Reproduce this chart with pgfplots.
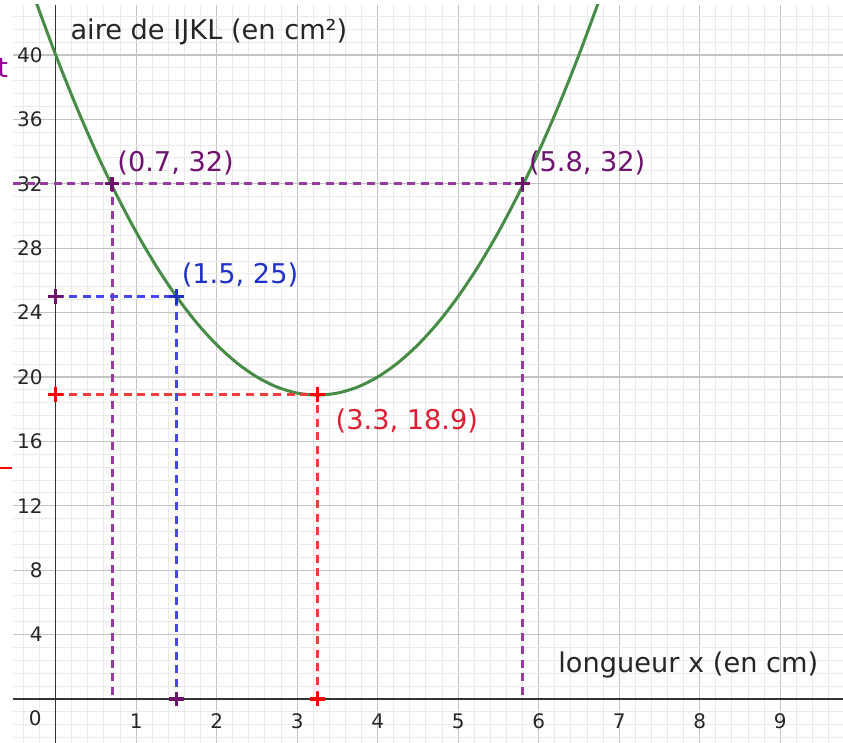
\documentclass[border=0pt]{standalone}
\usepackage{fontspec}
\setmainfont{DejaVu Sans}
\usepackage{pgfplots}
\pgfplotsset{compat=1.18}
\definecolor{curvegreen}{RGB}{70,140,70}
\definecolor{ppurple}{RGB}{150,60,160}
\definecolor{ppurpledark}{RGB}{110,20,110}
\definecolor{pblue}{RGB}{70,70,240}
\definecolor{pbluedark}{RGB}{30,50,200}
\definecolor{pred}{RGB}{240,60,60}
\definecolor{preddark}{RGB}{220,30,50}
\definecolor{majgrid}{RGB}{195,195,195}
\definecolor{mingrid}{RGB}{234,234,234}
\begin{document}
\begin{tikzpicture}
\begin{axis}[
  at={(6.5pt,0pt)}, anchor=south west,
  scale only axis, width=415pt, height=369pt,
  xmin=-0.53, xmax=9.78, ymin=-2.73, ymax=43.1,
  axis lines=middle,
  axis line style={-, draw=black!80, line width=0.8pt},
  xtick={1,...,9}, ytick={4,8,...,40},
  minor xtick={-0.4,-0.2,...,9.8},
  minor ytick={-2.4,-1.6,...,42.4},
  grid=both,
  major grid style={majgrid, line width=0.6pt},
  minor grid style={mingrid, line width=0.5pt},
  major tick length=0pt, minor tick length=0pt,
  tick label style={font=\fontsize{10}{12}\selectfont, text=black!85},
  /pgf/number format/assume math mode=true,
  xticklabel style={anchor=north, yshift=-4pt},
  yticklabel style={anchor=east, xshift=-3pt},
  clip=true,
]
% curve
\addplot[curvegreen, line width=1.5pt, smooth] coordinates {
(-0.25,43.375) (0,40) (0.25,36.875) (0.5,34) (0.75,31.375) (1,29)
(1.25,26.875) (1.5,25) (1.75,23.375) (2,22) (2.25,20.875) (2.5,20)
(2.75,19.375) (3,19) (3.25,18.875) (3.5,19) (3.75,19.375) (4,20)
(4.25,20.875) (4.5,22) (4.75,23.375) (5,25) (5.25,26.875) (5.5,29)
(5.75,31.375) (6,34) (6.25,36.875) (6.5,40) (6.75,43.375)};
% purple dashed
\addplot[ppurple, line width=1.5pt, dash pattern=on 4pt off 2.8pt] coordinates {(-0.53,32) (5.8,32)};
\addplot[ppurple, line width=1.5pt, dash pattern=on 4pt off 2.8pt] coordinates {(0.7,32) (0.7,0)};
\addplot[ppurple, line width=1.5pt, dash pattern=on 4pt off 2.8pt] coordinates {(5.8,32) (5.8,0)};
% blue dashed
\addplot[pblue, line width=1.5pt, dash pattern=on 4pt off 2.8pt] coordinates {(0,25) (1.5,25) (1.5,0)};
% red dashed
\addplot[pred, line width=1.5pt, dash pattern=on 4pt off 2.8pt] coordinates {(0,18.9) (3.25,18.9) (3.25,0)};
% markers
\addplot[only marks, mark=+, mark size=3.6pt, mark options={line width=1.7pt}, ppurpledark] coordinates {(0.7,32) (5.8,32) (0,25) (1.5,0)};
\addplot[only marks, mark=+, mark size=3.6pt, mark options={line width=1.7pt}, pbluedark] coordinates {(1.5,25)};
\addplot[only marks, mark=+, mark size=3.6pt, mark options={line width=1.7pt}, red] coordinates {(3.25,18.9) (0,18.9) (3.25,0)};
% labels
\node[anchor=base west, inner sep=0pt, text=ppurpledark, font=\fontsize{13.6}{16}\selectfont, xshift=2.5pt, yshift=6pt] at (axis cs:0.7,32) {(0.7, 32)};
\node[anchor=base west, inner sep=0pt, text=ppurpledark, font=\fontsize{13.6}{16}\selectfont, xshift=3pt, yshift=6pt] at (axis cs:5.8,32) {(5.8, 32)};
\node[anchor=base west, inner sep=0pt, text=pbluedark, font=\fontsize{13.6}{16}\selectfont, xshift=2.5pt, yshift=6.7pt] at (axis cs:1.5,25) {(1.5, 25)};
\node[anchor=base west, inner sep=0pt, text=preddark, font=\fontsize{13.6}{16}\selectfont, xshift=9pt, yshift=-17.6pt] at (axis cs:3.25,18.9) {(3.3, 18.9)};
\node[anchor=west, inner sep=0pt, text=black!85, font=\fontsize{13.6}{16}\selectfont] at (axis cs:0.18,41.4) {aire de IJKL (en cm²)};
\node[anchor=west, inner sep=0pt, text=black!85, font=\fontsize{13.6}{16}\selectfont] at (axis cs:6.24,2.11) {longueur x (en cm)};
\node[anchor=center, inner sep=0pt, text=black!85, font=\fontsize{10}{12}\selectfont] at (axis cs:-0.255,-1.18) {0};
\end{axis}
\node[anchor=east, inner sep=0pt, text={rgb,255:red,150;green,0;blue,150}, font=\fontsize{13.6}{16}\selectfont] at (4.2pt,337.5pt) {t};
\node[anchor=west, inner sep=0pt, fill=red, minimum width=6pt, minimum height=1.2pt] at (0pt,137.5pt) {};
\pgfresetboundingbox
\path (0pt,0pt) rectangle (421.5pt,371.5pt);
\end{tikzpicture}
\end{document}
